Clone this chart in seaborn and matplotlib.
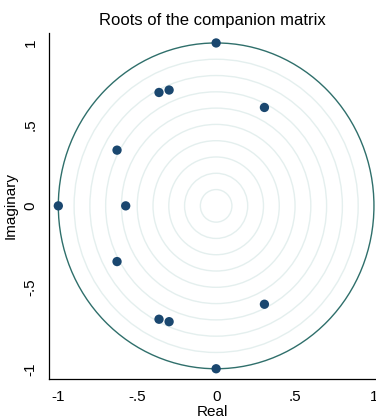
import numpy as np
import pandas as pd
import matplotlib
matplotlib.use("Agg")
import matplotlib.pyplot as plt
from matplotlib.patches import Circle
import seaborn as sns

# Data
real = [0.0, 0.0, -1.0, 0.306, 0.306, -0.362, -0.362, -0.298, -0.298, -0.628, -0.628, -0.573]
imag = [1.0, -1.0, 0.0, 0.604, -0.604, 0.696, -0.696, 0.711, -0.711, 0.342, -0.342, 0.0]
grid_radii = [0.1, 0.2, 0.3, 0.4, 0.5, 0.6, 0.7, 0.8, 0.9]
unit_radius = 1.0
tick_vals = [-1, -0.5, 0, 0.5, 1]
tick_labels = ["-1", "-.5", "0", ".5", "1"]

sns.set_style("white")
plt.rcParams['font.family'] = ['Liberation Sans', 'DejaVu Sans']
plt.rcParams['text.color'] = 'black'
plt.rcParams['axes.labelcolor'] = 'black'
plt.rcParams['xtick.color'] = 'black'
plt.rcParams['ytick.color'] = 'black'

fig = plt.figure(figsize=(3.76, 4.19), dpi=100)
ax = fig.add_axes([0.1295, 0.0962, 0.8705, 0.825])

for r in grid_radii:
    ax.add_patch(Circle((0, 0), r, fill=False, edgecolor="#e4efee", lw=1.0, zorder=1))
ax.add_patch(Circle((0, 0), unit_radius, fill=False, edgecolor="#2f6f6b", lw=1.0, zorder=2))

df = pd.DataFrame({"Real": real, "Imaginary": imag})
sns.scatterplot(data=df, x="Real", y="Imaginary", ax=ax, color="#1a476f",
                s=45, edgecolor="none", zorder=3, clip_on=False)

ax.set_xlim(-1.061, 1.013)
ax.set_ylim(-1.061, 1.061)
ax.set_xticks(tick_vals)
ax.set_xticklabels(tick_labels, fontsize=11, color="black")
ax.set_yticks(tick_vals)
ax.set_yticklabels(tick_labels, fontsize=11, rotation=90, va="center", color="black")
ax.tick_params(axis="both", direction="out", length=5, width=0.9, color="black", pad=3)
for s in ["top", "right"]:
    ax.spines[s].set_visible(False)
for s in ["left", "bottom"]:
    ax.spines[s].set_color("black")
    ax.spines[s].set_linewidth(0.9)

ax.set_xlabel("Real", fontsize=11, labelpad=1, color="black")
ax.set_ylabel("Imaginary", fontsize=11, labelpad=4, color="black")
ax.set_title("Roots of the companion matrix", fontsize=12, pad=6, color="black")

fig.savefig("out.png", dpi=100)
